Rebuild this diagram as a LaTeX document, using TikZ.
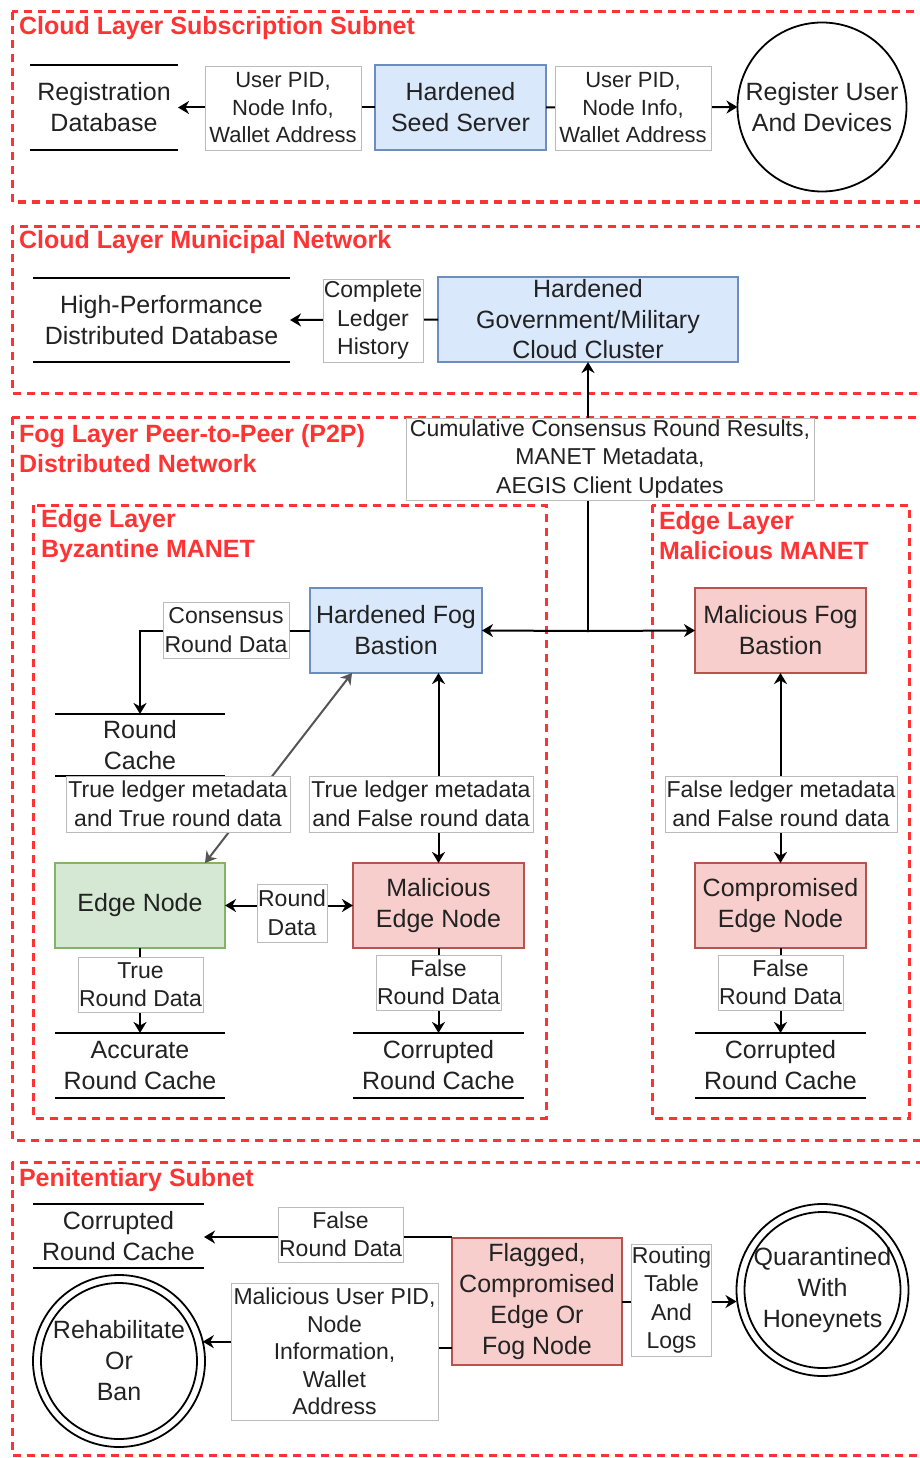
\documentclass[tikz,border=0pt]{standalone}
\usepackage{fontspec}
\setmainfont{Liberation Sans}
\usetikzlibrary{arrows.meta,calc}
\definecolor{dred}{HTML}{FF3333}
\definecolor{bfill}{HTML}{DAE8FC}
\definecolor{bline}{HTML}{6C8EBF}
\definecolor{rfill}{HTML}{F8CECC}
\definecolor{rline}{HTML}{B85450}
\definecolor{gfill}{HTML}{D5E8D4}
\definecolor{gline}{HTML}{82B366}
\definecolor{lblline}{HTML}{BBBBBB}
\definecolor{dgray}{HTML}{555555}
\definecolor{txt}{HTML}{222222}
\begin{document}
\begin{tikzpicture}[x=1pt,y=-1pt,
 every node/.style={inner sep=0pt, outer sep=0pt, align=center, text=txt},
 sz/.style 2 args={minimum width=#1pt, minimum height=#2pt},
 mainf/.style={font=\fontsize{25}{31}\selectfont},
 lblf/.style={font=\fontsize{23}{28.5}\selectfont},
 box/.style={mainf, draw, line width=1.6pt, rectangle},
 bluebox/.style={box, fill=bfill, draw=bline},
 redbox/.style={box, fill=rfill, draw=rline},
 greenbox/.style={box, fill=gfill, draw=gline},
 lbl/.style={lblf, draw=lblline, fill=white, line width=0.8pt},
 dbnode/.style={mainf},
 dbline/.style={line width=2pt},
 zone/.style={draw=dred, dash pattern=on 8pt off 6pt, line width=3pt},
 zonetitle/.style={font=\bfseries\fontsize{25}{30}\selectfont, text=dred, anchor=west, align=left},
 tip/.tip={Stealth[length=11pt,width=13pt,inset=3.5pt]},
 arr/.style={line width=2pt, -tip},
 biarr/.style={line width=2pt, tip-tip},
 circ/.style={mainf, circle, draw, line width=1.8pt},
]
\useasboundingbox (0,0) rectangle (920,1458);
\clip (0,0) rectangle (920,1458);
\fill[white] (0,0) rectangle (920,1458);

% ---------- zones ----------
\draw[zone] (12,12) rectangle (945,202);
\draw[zone] (12,226) rectangle (945,393);
\draw[zone] (12,417) rectangle (945,1140);
\draw[zone] (33,505) rectangle (546,1118);
\draw[zone] (652,505) rectangle (909,1118);
\draw[zone] (12,1162) rectangle (945,1455);

\node[zonetitle] (t1) at (19,28) {Cloud Layer Subscription Subnet};
\node[zonetitle] (t2) at (19,242) {Cloud Layer Municipal Network};
\node[zonetitle] (t3) at (19,449) {Fog Layer Peer-to-Peer (P2P)\\Distributed Network};
\node[zonetitle] (t4) at (41,536) {Edge Layer\\Byzantine MANET};
\node[zonetitle] (t5) at (659,536) {Edge Layer\\Malicious MANET};
\node[zonetitle] (t6) at (19,1180) {Penitentiary Subnet};

% ---------- section 1 ----------
\node[dbnode, sz={148}{85}] (regdb) at (104,107.5) {Registration\\Database};
\draw[dbline] (regdb.north west) -- (regdb.north east) (regdb.south west) -- (regdb.south east);
\node[bluebox, sz={171}{85}] (seed) at (460.5,107.5) {Hardened\\Seed Server};
\node[circ, minimum size=169pt] (reguser) at (822,107) {Register User\\And Devices};
\draw[arr] (seed.west) -- (regdb.east);
\draw[arr] (seed.east) -- (reguser.west);
\node[lbl, font=\fontsize{22}{27.5}\selectfont, sz={156}{84}] (l1) at (283,108) {User PID,\\Node Info,\\Wallet Address};
\node[lbl, font=\fontsize{22}{27.5}\selectfont, sz={156}{84}] (l2) at (633,108) {User PID,\\Node Info,\\Wallet Address};

% ---------- section 2 ----------
\node[dbnode, sz={257}{84}] (hpdb) at (161.5,320) {High-Performance\\Distributed Database};
\draw[dbline] (hpdb.north west) -- (hpdb.north east) (hpdb.south west) -- (hpdb.south east);
\node[bluebox, sz={300}{85}] (cloud) at (588,319.5) {};
\node[mainf, font=\fontsize{25}{30.5}\selectfont] (cloudtxt) at (cloud.center) {Hardened\\Government/Military\\Cloud Cluster};
\draw[arr] (cloud.west) -- (hpdb.east);
\node[lbl, sz={100}{83}] (l3) at (373,320.5) {Complete\\Ledger\\History};

% ---------- section 3 ----------
\node[bluebox, sz={172}{85}] (fogH) at (396,630.5) {Hardened Fog\\Bastion};
\node[redbox, sz={171}{85}] (fogM) at (780.5,630.5) {Malicious Fog\\Bastion};
\coordinate (jn) at (588,631);
\draw[arr] (jn) -- (cloud.south);
\draw[arr] (jn) -- (fogH.east);
\draw[arr] (jn) -- (fogM.west);
\node[lbl, sz={408}{82}] (l4) at (610,459) {Cumulative Consensus Round Results,\\MANET Metadata,\\AEGIS Client Updates};

\node[dbnode, sz={170}{62}] (rcache) at (140,745) {Round\\Cache};
\draw[dbline] (rcache.north west) -- (rcache.north east) (rcache.south west) -- (rcache.south east);
\draw[arr] (fogH.west) -| (rcache.north);
\node[lbl, sz={126}{56}] (l5) at (226,630) {Consensus\\Round Data};

\node[greenbox, sz={170}{85}] (edge) at (140,905.5) {Edge Node};
\node[redbox, sz={171}{85}] (medge) at (438.5,905.5) {Malicious\\Edge Node};
\draw[biarr, draw=dgray] ([xshift=-44pt]fogH.south) -- ([xshift=65pt]edge.north);
\draw[biarr] (medge.north |- fogH.south) -- (medge.north);
\node[lbl, sz={224}{56}] (l6) at (178,804) {True ledger metadata\\and True round data};
\node[lbl, sz={224}{56}] (l7) at (421,804) {True ledger metadata\\and False round data};
\draw[biarr] (edge.east) -- (medge.west);
\node[lbl, sz={70}{58}] (l8) at (292,913) {Round\\Data};

\node[dbnode, sz={170}{65}] (acache) at (140,1065.5) {Accurate\\Round Cache};
\draw[dbline] (acache.north west) -- (acache.north east) (acache.south west) -- (acache.south east);
\draw[arr] (edge.south) -- (acache.north);
\node[lbl, sz={125}{55}] (l9) at (140.5,984.5) {True\\Round Data};

\node[dbnode, sz={171}{65}] (ccache1) at (438.5,1065.5) {Corrupted\\Round Cache};
\draw[dbline] (ccache1.north west) -- (ccache1.north east) (ccache1.south west) -- (ccache1.south east);
\draw[arr] (medge.south) -- (ccache1.north);
\node[lbl, sz={125}{55}] (l10) at (438.5,982.5) {False\\Round Data};

\node[redbox, sz={171}{85}] (cedge) at (780.5,905.5) {Compromised\\Edge Node};
\draw[biarr] (fogM.south) -- (cedge.north);
\node[lbl, sz={232}{56}] (l11) at (781,804) {False ledger metadata\\and False round data};
\node[dbnode, sz={171}{65}] (ccache2) at (780.5,1065.5) {Corrupted\\Round Cache};
\draw[dbline] (ccache2.north west) -- (ccache2.north east) (ccache2.south west) -- (ccache2.south east);
\draw[arr] (cedge.south) -- (ccache2.north);
\node[lbl, sz={125}{55}] (l12) at (780.5,982.5) {False\\Round Data};

% ---------- section 4 ----------
\node[dbnode, sz={171}{64}] (pcache) at (118.5,1236) {Corrupted\\Round Cache};
\draw[dbline] (pcache.north west) -- (pcache.north east) (pcache.south west) -- (pcache.south east);
\node[redbox, sz={170}{127}] (flag) at (537,1301.5) {Flagged,\\Compromised\\Edge Or\\Fog Node};
\draw[arr] ([yshift=1pt]flag.north west) -- ([yshift=1pt]flag.north west -| pcache.east);
\node[lbl, sz={125}{55}] (l13) at (340.5,1234.5) {False\\Round Data};

\node[circ, minimum size=172pt] (rehab) at (119,1361) {Rehabilitate\\Or\\Ban};
\draw[line width=1.8pt] (rehab.center) circle (78pt);
\draw[arr] ([yshift=-46pt]flag.west) -- ++(-100,0) |- (rehab.13);
\node[lbl, font=\fontsize{23}{27.5}\selectfont, sz={207}{137}] (l14) at (334.5,1351.5) {Malicious User PID,\\Node\\Information,\\Wallet\\Address};

\node[circ, minimum size=172pt] (quar) at (822.5,1290) {Quarantined\\With\\Honeynets};
\draw[line width=1.8pt] (quar.center) circle (78pt);
\draw[arr] (flag.east) -- (flag.east -| quar.west);
\node[lbl, sz={79}{112}] (l15) at (671.5,1300) {Routing\\Table\\And\\Logs};
\end{tikzpicture}
\end{document}
